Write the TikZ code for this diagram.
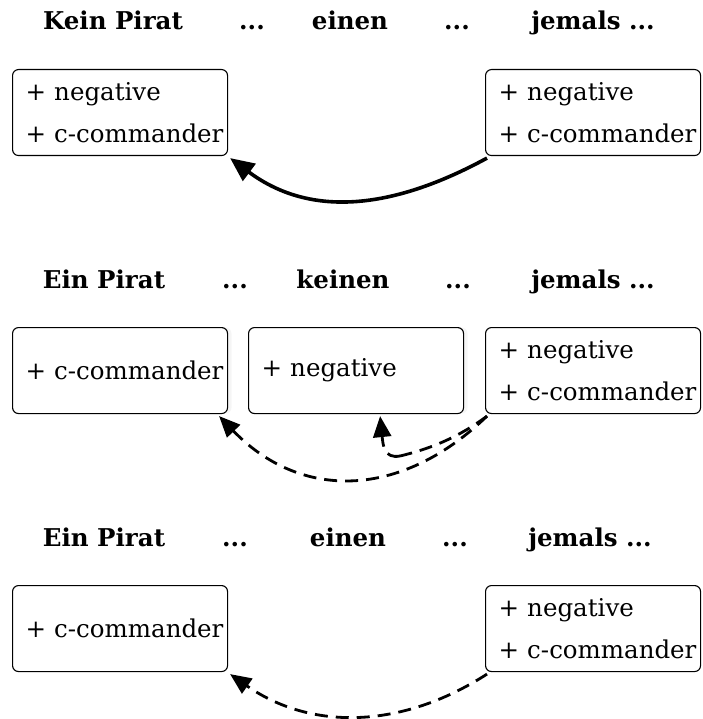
\documentclass[tikz,border=0pt]{standalone}
\usepackage{fontspec}
\setmainfont{DejaVu Serif}
\usetikzlibrary{arrows.meta,shadows}
\newfontfamily\headfont{DejaVu Serif}
\tikzset{
  head/.style={anchor=base, font={\headfont\bfseries\fontsize{24.5}{28}\selectfont}},
  featbox/.style={draw, fill=white, line width=1.1pt, rounded corners=6pt, minimum width=215pt, minimum height=86pt,
     text width=189pt, inner xsep=13pt, align=left, anchor=north west,
     font={\fontsize{24.5}{42}\selectfont}},
  shbox/.style={featbox, drop shadow={opacity=0.08, shadow xshift=4pt, shadow yshift=0pt}},
  solidarr/.style={line width=3.6pt, -{Triangle[length=24pt,width=21pt]}},
  dasharr/.style={line width=2.8pt, dash pattern=on 13pt off 8pt, -{Triangle[length=21pt,width=18pt]}},
  dashline/.style={line width=2.8pt, dash pattern=on 13pt off 8pt}
}
\begin{document}
\begin{tikzpicture}[x=1pt,y=-1pt]
\useasboundingbox (0,0) rectangle (702,719);
% Row 1
\node[head] (h11) at (113,30) {Kein Pirat};
\node[head] (h12) at (252,30) {...};
\node[head] (h13) at (350,30) {einen};
\node[head] (h14) at (457,30) {...};
\node[head] (h15) at (593,30) {jemals ...};
\node[featbox] (a1) at (12,69) {\mbox{+ negative}\\\mbox{+ c-commander}};
\node[featbox] (c1) at (485,69) {\mbox{+ negative}\\\mbox{+ c-commander}};
\draw[solidarr] ([xshift=2pt,yshift=-2pt]c1.south west) .. controls (410,200) and (320,225) .. ([xshift=2pt,yshift=-2pt]a1.south east);
% Row 2
\node[head] (h21) at (104,288) {Ein Pirat};
\node[head] (h22) at (235,288) {...};
\node[head] (h23) at (343,288) {keinen};
\node[head] (h24) at (458,288) {...};
\node[head] (h25) at (593,288) {jemals ...};
\node[shbox] (a2) at (12,327) {\mbox{+ c-commander}};
\node[shbox] (b2) at (248,327) {\mbox{+ negative}};
\node[featbox] (c2) at (485,327) {\mbox{+ negative}\\\mbox{+ c-commander}};
\coordinate (curl) at (400,456);
\draw[dasharr] ([xshift=2pt,yshift=-2pt]c2.south west) .. controls (400,500) and (300,500) .. ([xshift=-9pt,yshift=-2pt]a2.south east);
\draw[dashline] ([xshift=2pt,yshift=-2pt]c2.south west) .. controls (455,440) and (425,450) .. (curl);
\draw[dasharr] (curl) .. controls (384,459) and (383,445) .. ([xshift=-84pt,yshift=-2pt]b2.south east);
% Row 3
\node[head] (h31) at (104,546) {Ein Pirat};
\node[head] (h32) at (235,546) {...};
\node[head] (h33) at (348,546) {einen};
\node[head] (h34) at (455,546) {...};
\node[head] (h35) at (590,546) {jemals ...};
\node[featbox] (a3) at (12,585) {\mbox{+ c-commander}};
\node[featbox] (c3) at (485,585) {\mbox{+ negative}\\\mbox{+ c-commander}};
\draw[dasharr] ([xshift=2pt,yshift=-2pt]c3.south west) .. controls (400,730) and (310,730) .. ([xshift=2pt,yshift=-2pt]a3.south east);
\end{tikzpicture}
\end{document}
